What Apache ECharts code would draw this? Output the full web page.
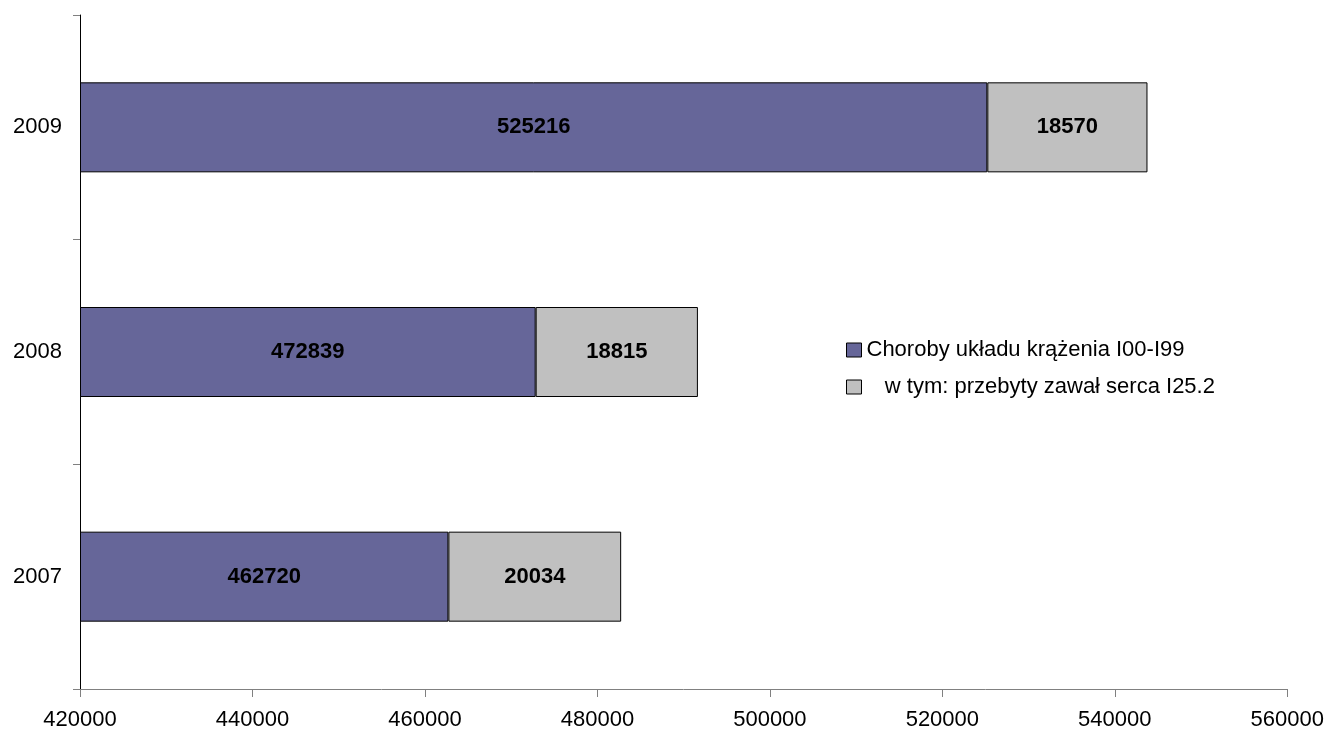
<!DOCTYPE html>
<html>
<head>
<meta charset="utf-8">
<script src="https://cdn.jsdelivr.net/npm/echarts@6/dist/echarts.min.js"></script>
<style>html,body{margin:0;padding:0;background:#fff}#c{width:1327px;height:731px}</style>
</head>
<body>
<div id="c"></div>
<script>
const categories = ['2007', '2008', '2009'];
const seriesNames = ['Choroby układu krążenia I00-I99', '   w tym: przebyty zawał serca I25.2'];
const circulatory = [462720, 472839, 525216];
const infarction = [20034, 18815, 18570];
const xTicks = [420000, 440000, 460000, 480000, 500000, 520000, 540000, 560000];

const FONT = '"Liberation Sans", Arial, sans-serif';
const chart = echarts.init(document.getElementById('c'), null, {renderer: 'canvas'});
chart.setOption({
  animation: false,
  backgroundColor: '#ffffff',
  textStyle: {fontFamily: FONT},
  grid: {left: 80, right: 38, top: 15, bottom: 41, containLabel: false},
  legend: {
    orient: 'vertical',
    left: 841,
    top: 334,
    icon: 'rect',
    itemWidth: 15,
    itemHeight: 14,
    itemGap: 15,
    itemStyle: {borderColor: '#000', borderWidth: 1},
    textStyle: {fontFamily: FONT, fontSize: 22, color: '#000'},
    data: seriesNames
  },
  xAxis: {
    type: 'value',
    min: xTicks[0],
    max: xTicks[xTicks.length - 1],
    interval: xTicks[1] - xTicks[0],
    startValue: xTicks[0],
    splitLine: {show: false},
    axisLine: {show: true, lineStyle: {color: '#808080', width: 1}},
    axisTick: {show: true, length: 8, lineStyle: {color: '#808080'}},
    axisLabel: {fontFamily: FONT, fontSize: 22, color: '#000', margin: 20, formatter: v => String(v)}
  },
  yAxis: {
    type: 'category',
    data: categories,
    axisLine: {show: true, lineStyle: {color: '#000', width: 1}},
    axisTick: {show: true, length: 7, lineStyle: {color: '#808080'}},
    axisLabel: {fontFamily: FONT, fontSize: 22, color: '#000', margin: 18}
  },
  series: [
    {
      name: seriesNames[0],
      type: 'bar',
      stack: 'total',
      barWidth: 90,
      clip: true,
      data: circulatory,
      itemStyle: {color: '#666699', borderColor: '#000', borderWidth: 1},
      label: {show: true, position: 'inside', fontFamily: FONT, fontSize: 22, fontWeight: 'bold', color: '#000'},
      emphasis: {disabled: true}
    },
    {
      name: seriesNames[1],
      type: 'bar',
      stack: 'total',
      barWidth: 90,
      clip: true,
      data: infarction,
      itemStyle: {color: '#C0C0C0', borderColor: '#000', borderWidth: 1},
      label: {show: true, position: 'inside', fontFamily: FONT, fontSize: 22, fontWeight: 'bold', color: '#000'},
      emphasis: {disabled: true}
    }
  ]
});
</script>
</body>
</html>
